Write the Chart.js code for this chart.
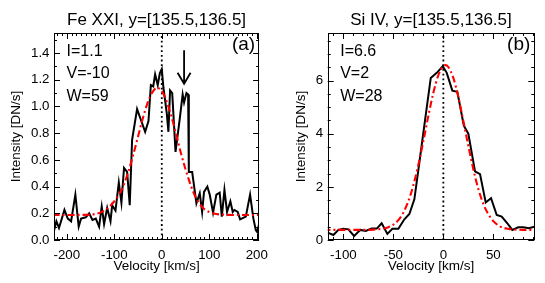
<!DOCTYPE html>
<html>
<head>
<meta charset="utf-8">
<script src="https://cdn.jsdelivr.net/npm/chart.js@4/dist/chart.umd.min.js"></script>
<style>
  html, body { margin: 0; padding: 0; background: #fff; }
  #wrap { position: relative; width: 545px; height: 283px; }
  canvas { position: absolute; top: 0; }
  #c1 { left: 0; }
  #c2 { left: 275px; }
</style>
</head>
<body>
<div id="wrap">
  <canvas id="c1" width="275" height="283"></canvas>
  <canvas id="c2" width="270" height="283"></canvas>
</div>
<script>
// ---------- Panel (a): Fe XXI ----------
const feTitle = 'Fe XXI, y=[135.5,136.5]';
const feVelocity = [-227,-222,-216.5,-205,-198,-191,-182,-175,-170,-160,-153,-146,-139,-132,-126.5,-121.5,-115,-108,-104.5,-97.5,-90.5,-85,-79.5,-73,-67.5,-62.5,-52,-45,-35,-28,-23,-18,-14,-8.5,-4,0,3.5,10.5,14,17.5,22,29,38,44,47,52,55.5,57,64,73,80,85,89,96,101,108,115,122,126.5,132,137.5,144.5,149.5,153,160,165,177,186,193,198,201,205];
const feIntensity = [0.07,0.14,0.09,0.225,0.16,0.14,0.34,0.10,0.16,0.17,0.20,0.15,0.16,0.10,0.25,0.12,0.24,0.14,0.26,0.22,0.43,0.28,0.54,0.51,0.26,0.75,0.98,0.91,0.81,0.89,1.16,1.15,1.24,1.16,1.25,1.28,1.14,0.95,0.81,1.12,1.10,0.66,0.91,1.09,1.03,1.10,1.09,0.51,0.51,0.275,0.35,0.21,0.36,0.40,0.34,0.205,0.34,0.355,0.175,0.375,0.21,0.29,0.21,0.225,0.21,0.155,0.175,0.34,0.16,0.075,0.06,0.12];
const feFitVelocity = [-230,-200,-170,-150,-140,-130,-120,-110,-100,-90,-80,-70,-60,-50,-40,-30,-20,-10,0,10,20,30,40,50,60,70,80,90,100,110,120,130,140,160,190,210];
const feFitIntensity = [0.187,0.187,0.188,0.19,0.195,0.205,0.222,0.25,0.29,0.34,0.415,0.515,0.64,0.775,0.91,1.025,1.105,1.14,1.115,1.04,0.93,0.795,0.655,0.53,0.42,0.33,0.27,0.23,0.21,0.198,0.192,0.19,0.188,0.187,0.187,0.187];
const feXTicks = [-200,-100,0,100,200];
const feYTicks = [0,0.2,0.4,0.6,0.8,1.0,1.2,1.4];
const feNotes = ['I=1.1','V=-10','W=59'];

// ---------- Panel (b): Si IV ----------
const siTitle = 'Si IV, y=[135.5,136.5]';
const siVelocity = [-115.7,-110,-105,-100,-95,-89.3,-83,-77.7,-71.7,-66.6,-61.7,-56,-51,-45,-39,-34,-29,-23.5,-18,-12.6,-6.6,-0.6,3.4,9,14,20.5,25,31.7,36.7,42.4,47.7,53.4,58.4,64,69,75,80,85.7,91];
const siIntensity = [0.28,0.19,0.38,0.42,0.40,0.15,0.38,0.34,0.43,0.43,0.63,0.23,0.42,0.42,0.78,0.98,1.53,3.05,4.6,6.1,6.29,6.54,6.29,5.62,5.58,4.3,4.0,2.58,2.48,1.41,1.57,0.94,0.88,0.63,0.38,0.48,0.48,0.44,0.50];
const siFitVelocity = [-120,-80,-70,-60,-55,-50,-45,-40,-35,-30,-25,-20,-15,-10,-5,0,2,5,10,15,20,25,30,35,40,45,50,55,60,65,70,80,95];
const siFitIntensity = [0.38,0.38,0.39,0.43,0.48,0.58,0.75,1.03,1.46,2.06,2.83,3.72,4.67,5.54,6.2,6.55,6.58,6.51,6.1,5.38,4.48,3.54,2.66,1.92,1.36,0.97,0.71,0.55,0.46,0.42,0.40,0.38,0.38];
const siXTicks = [-100,-50,0,50];
const siYTicks = [0,2,4,6];
const siNotes = ['I=6.6','V=2','W=28'];

const FONT = "'Liberation Sans', Arial, Helvetica, sans-serif";

const idlFrame = {
  id: 'idlFrame',
  beforeDatasetsDraw(chart, args, o) {
    const {ctx, chartArea: a} = chart;
    const x0 = chart.scales.x.getPixelForValue(0);
    ctx.save();
    ctx.strokeStyle = '#000';
    ctx.lineWidth = 1.8;
    ctx.setLineDash([1.8, 2.9]);
    ctx.beginPath();
    ctx.moveTo(x0, a.bottom);
    ctx.lineTo(x0, a.top);
    ctx.stroke();
    ctx.restore();
  },
  afterDraw(chart, args, o) {
    const {ctx, chartArea: a} = chart;
    const xs = chart.scales.x, ys = chart.scales.y;
    ctx.save();
    ctx.strokeStyle = '#000';
    ctx.lineWidth = 1;
    ctx.strokeRect(Math.round(a.left) + 0.5, Math.round(a.top) + 0.5, Math.round(a.right - a.left) - 1, Math.round(a.bottom - a.top) - 1);
    ctx.beginPath();
    const near = (v, list) => list.some(t => Math.abs(t - v) < 1e-6);
    const xStart = Math.ceil(xs.min / o.xMinor) * o.xMinor;
    for (let v = xStart; v <= xs.max + 1e-9; v += o.xMinor) {
      const vv = Math.round(v * 1000) / 1000;
      const len = near(vv, o.xMajor) ? 6 : 3;
      const px = Math.round(xs.getPixelForValue(vv)) + 0.5;
      ctx.moveTo(px, a.bottom); ctx.lineTo(px, a.bottom - len);
      ctx.moveTo(px, a.top); ctx.lineTo(px, a.top + len);
    }
    const yStart = Math.ceil(ys.min / o.yMinor) * o.yMinor;
    for (let v = yStart; v <= ys.max + 1e-9; v += o.yMinor) {
      const vv = Math.round(v * 1000) / 1000;
      const len = near(vv, o.yMajor) ? 6 : 3;
      const py = Math.round(ys.getPixelForValue(vv)) + 0.5;
      ctx.moveTo(a.left, py); ctx.lineTo(a.left + len, py);
      ctx.moveTo(a.right, py); ctx.lineTo(a.right - len, py);
    }
    ctx.stroke();

    ctx.fillStyle = '#000';
    ctx.textBaseline = 'middle';
    ctx.textAlign = 'left';
    ctx.font = '16px ' + FONT;
    o.notes.forEach((t, i) => ctx.fillText(t, a.left + 12.5, a.top + 18.7 + i * 22.2));
    ctx.textAlign = 'right';
    ctx.font = '19px ' + FONT;
    ctx.fillText(o.letter, a.right - 4, a.top + 12);

    if (o.arrow) {
      const ax = xs.getPixelForValue(o.arrow[0]);
      const ay0 = ys.getPixelForValue(o.arrow[1]);
      const ay1 = ys.getPixelForValue(o.arrow[2]);
      ctx.lineWidth = 1.8;
      ctx.beginPath();
      ctx.moveTo(ax, ay0); ctx.lineTo(ax, ay1);
      ctx.moveTo(ax - 6.5, ay1 - 11); ctx.lineTo(ax, ay1); ctx.lineTo(ax + 6.5, ay1 - 11);
      ctx.stroke();
    }
    ctx.restore();
  }
};

function toPoints(xs, ys) { return xs.map((x, i) => ({x, y: ys[i]})); }

function makePanel(id, cfg) {
  const tickFont = {family: FONT, size: 13.3};
  const labelFont = {family: FONT, size: 13.5};
  return new Chart(document.getElementById(id), {
    type: 'line',
    data: {
      datasets: [
        { label: 'fit', data: toPoints(cfg.fitX, cfg.fitY), borderColor: '#ff0000', borderWidth: 2.1,
          borderDash: [7, 3, 2, 3], pointRadius: 0, fill: false, cubicInterpolationMode: 'monotone' },
        { label: 'observed', data: toPoints(cfg.x, cfg.y), borderColor: '#000000', borderWidth: 2,
          pointRadius: 0, fill: false, tension: 0 }
      ]
    },
    options: {
      responsive: false, animation: false, devicePixelRatio: 1,
      layout: { padding: { left: 0, right: cfg.padRight, top: 0, bottom: 0 } },
      plugins: {
        legend: { display: false }, tooltip: { enabled: false },
        title: { display: true, text: cfg.title, color: '#000', fullSize: false,
                 font: {family: FONT, size: 17, weight: 'normal'}, padding: {top: 10.6, bottom: 2} },
        idlFrame: cfg.frame
      },
      scales: {
        x: {
          type: 'linear', min: cfg.xMin, max: cfg.xMax,
          afterBuildTicks: s => { s.ticks = cfg.xTicks.map(v => ({value: v})); },
          afterFit: s => { s.height = 43; },
          grid: { display: false, drawTicks: false }, border: { display: false },
          ticks: { color: '#000', font: tickFont, padding: 7, maxRotation: 0, autoSkip: false },
          title: { display: true, text: 'Velocity [km/s]', color: '#000', font: labelFont, padding: {top: 0, bottom: 8.5} }
        },
        y: {
          type: 'linear', min: cfg.yMin, max: cfg.yMax,
          afterBuildTicks: s => { s.ticks = cfg.yTicks.map(v => ({value: v})); },
          afterFit: s => { s.width = cfg.yWidth; },
          grid: { display: false, drawTicks: false }, border: { display: false },
          ticks: { color: '#000', font: tickFont, padding: 4.5, autoSkip: false,
                   callback: v => cfg.yFmt(v) },
          title: { display: true, text: 'Intensity [DN/s]', color: '#000', font: labelFont, padding: {top: cfg.yTitlePad, bottom: 0} }
        }
      }
    },
    plugins: [idlFrame]
  });
}

makePanel('c1', {
  title: feTitle, x: feVelocity, y: feIntensity, fitX: feFitVelocity, fitY: feFitIntensity,
  xMin: -227, xMax: 205, yMin: 0, yMax: 1.55, xTicks: feXTicks, yTicks: feYTicks,
  yFmt: v => v.toFixed(1), yWidth: 54, yTitlePad: 7.9, padRight: 13,
  frame: { xMinor: 10, xMajor: feXTicks, yMinor: 0.1, yMajor: feYTicks, notes: feNotes, letter: '(a)', arrow: [47, 1.42, 1.17] }
});
makePanel('c2', {
  title: siTitle, x: siVelocity, y: siIntensity, fitX: siFitVelocity, fitY: siFitIntensity,
  xMin: -115.7, xMax: 91, yMin: 0, yMax: 7.79, xTicks: siXTicks, yTicks: siYTicks,
  yFmt: v => String(v), yWidth: 52.7, yTitlePad: 18.4, padRight: 10.7,
  frame: { xMinor: 10, xMajor: siXTicks, yMinor: 0.5, yMajor: siYTicks, notes: siNotes, letter: '(b)', arrow: null }
});
</script>
</body>
</html>
